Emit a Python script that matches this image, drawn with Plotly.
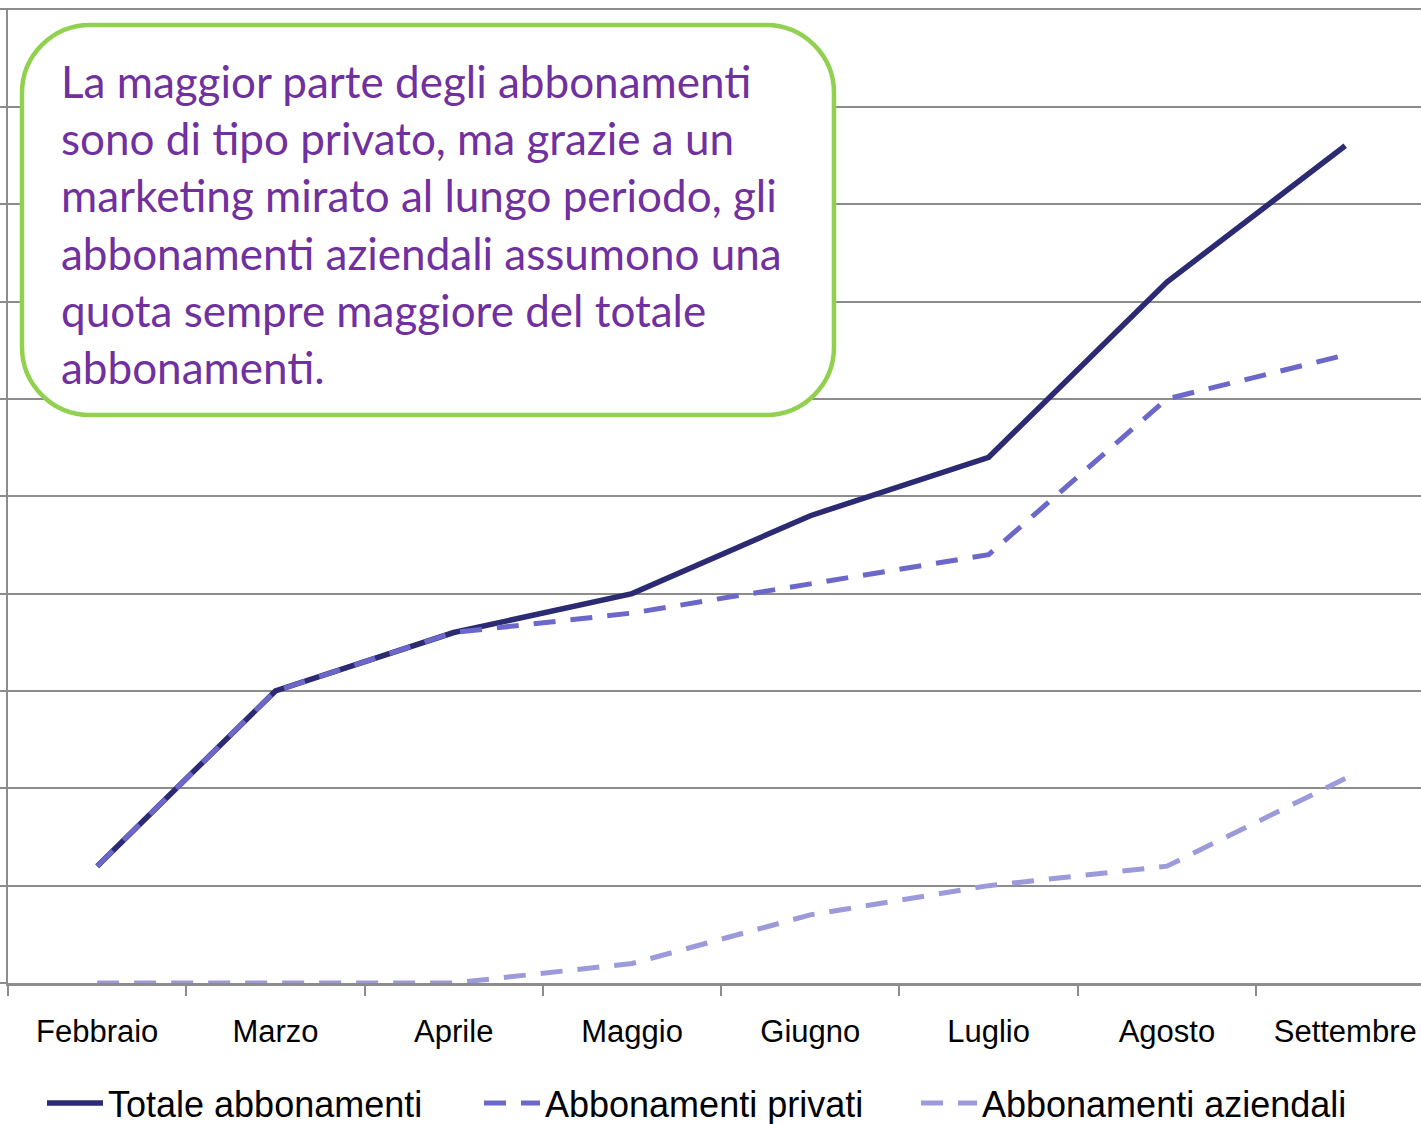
import plotly.graph_objects as go

mesi = ["Febbraio", "Marzo", "Aprile", "Maggio", "Giugno", "Luglio", "Agosto", "Settembre"]
totale = [12, 30, 36, 40, 48, 54, 72, 86]
privati = [12, 30, 36, 38, 41, 44, 60, 64.5]
aziendali = [0, 0, 0, 2, 7, 10, 12, 21]

nota = ("La maggior parte degli abbonamenti<br>"
        "sono di tipo privato, ma grazie a un<br>"
        "marketing mirato al lungo periodo, gli<br>"
        "abbonamenti aziendali assumono una<br>"
        "quota sempre maggiore del totale<br>"
        "abbonamenti.")

W, H = 1421, 1124
ML, MR, MT, MB = 8, 0, 8, 141
PW = W - ML - MR
PH = H - MT - MB


def px(x):
    return (x - ML) / PW


def py(y):
    return (H - MB - y) / PH


fig = go.Figure()
fig.add_trace(go.Scatter(x=mesi, y=totale, name="Totale abbonamenti", mode="lines",
                         line=dict(color="#2B2A73", width=5.5)))
fig.add_trace(go.Scatter(x=mesi, y=privati, name="Abbonamenti privati", mode="lines",
                         line=dict(color="#6C68C9", width=5, dash="22px,15px")))
fig.add_trace(go.Scatter(x=mesi, y=aziendali, name="Abbonamenti aziendali", mode="lines",
                         line=dict(color="#9D9ADB", width=5, dash="22px,15px")))

# rounded box
x0, x1, y0, y1, r = 22, 834, 25, 415, 68
k = 0.5523 * r
pts = [
    ("M", [(x0 + r, y0)]),
    ("L", [(x1 - r, y0)]),
    ("C", [(x1 - r + k, y0), (x1, y0 + r - k), (x1, y0 + r)]),
    ("L", [(x1, y1 - r)]),
    ("C", [(x1, y1 - r + k), (x1 - r + k, y1), (x1 - r, y1)]),
    ("L", [(x0 + r, y1)]),
    ("C", [(x0 + r - k, y1), (x0, y1 - r + k), (x0, y1 - r)]),
    ("L", [(x0, y0 + r)]),
    ("C", [(x0, y0 + r - k), (x0 + r - k, y0), (x0 + r, y0)]),
]
path = ""
for cmd, ps in pts:
    path += cmd + " ".join(f"{px(a):.5f},{py(b):.5f}" for a, b in ps) + " "
path += "Z"
fig.add_shape(type="path", path=path, xref="paper", yref="paper", layer="above",
              fillcolor="white", line=dict(color="#92D050", width=4.5))

fig.add_annotation(text=nota, xref="paper", yref="paper", x=px(59), y=py(53),
                   xanchor="left", yanchor="top", align="left", showarrow=False,
                   font=dict(family="Lato", size=44, color="#7030A0"))

fig.update_layout(
    width=W, height=H,
    margin=dict(l=ML, r=MR, t=MT, b=MB, autoexpand=False),
    paper_bgcolor="white", plot_bgcolor="white",
    showlegend=True,
    legend=dict(orientation="h", x=px(42), xanchor="left", y=py(1103), yanchor="middle",
                font=dict(family="Liberation Sans", size=36, color="black"),
                entrywidth=366, entrywidthmode="pixels", itemwidth=56,
                bgcolor="rgba(0,0,0,0)"),
    xaxis=dict(type="category", range=[-0.5, 7.425], showgrid=False, automargin=False,
               showline=True, linecolor="#8C8C8C", linewidth=2.5,
               ticks="outside", tickson="boundaries", ticklen=10, tickcolor="#8C8C8C", tickwidth=2,
               tickfont=dict(family="Liberation Sans", size=31, color="black"),
               ticklabelstandoff=19, zeroline=False),
    yaxis=dict(range=[0, 100.15], tick0=0, dtick=10, showgrid=True, gridcolor="#8C8C8C", gridwidth=2,
               showline=True, linecolor="#8C8C8C", linewidth=2, automargin=False,
               ticks="outside", ticklen=8, tickcolor="#8C8C8C", tickwidth=2,
               showticklabels=False, zeroline=False),
)

fig.write_html("out.html", config={"displayModeBar": False},
               post_script="document.body.style.margin='0px';")
